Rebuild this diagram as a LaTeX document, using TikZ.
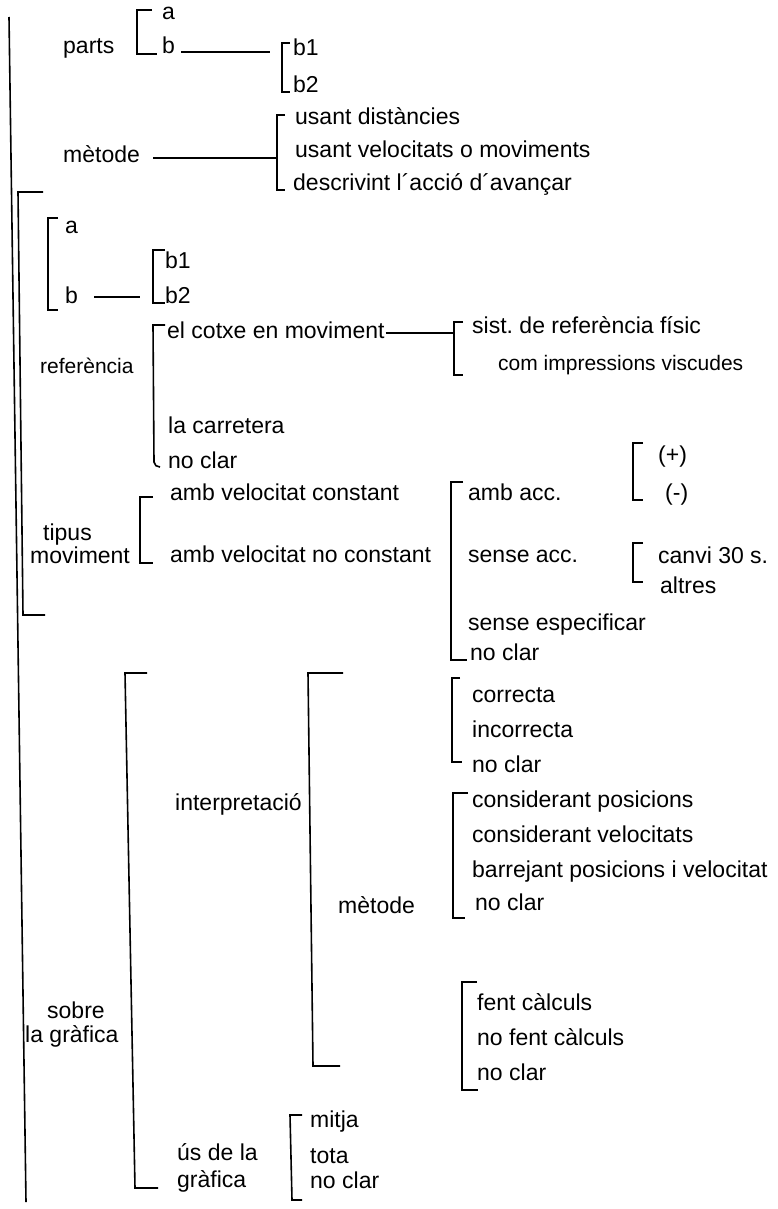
\documentclass[tikz,border=0pt]{standalone}
\usepackage{fontspec}
\setmainfont{Liberation Sans}
\frenchspacing
\begin{document}
\begin{tikzpicture}[x=1pt,y=-1pt,
  lbl/.style={anchor=base west, inner sep=0pt, font=\fontsize{23}{27}\selectfont},
  sml/.style={anchor=base west, inner sep=0pt, font=\fontsize{21}{25}\selectfont},
  brk/.style={line width=1.6pt, line cap=butt, line join=miter},
]
\useasboundingbox (0,0) rectangle (778,1209);

% ---------- spine and second-level bracket ----------
\draw[brk] (9,17) -- (26,1202);
\draw[brk] (43,192) -- (18,192) -- (23,615) -- (45,615);

% ---------- parts ----------
\node[lbl] (parts) at (63,54) {parts};
\node[lbl] (pa) at (162,20) {a};
\node[lbl] (pb) at (162,54) {b};
\draw[brk] (152,10) -- (137,10) -- (137,54) -- (157,54);
\node[lbl] (pb1) at (293,56) {b1};
\node[lbl] (pb2) at (293,93) {b2};
\draw[brk] (290,43) -- (282,43) -- (282,92) -- (290,92);
\coordinate (pbend) at (270,52);
\draw[brk] ([xshift=6pt,yshift=2pt]pb.base east) -- (pbend);

% ---------- mètode ----------
\node[lbl] (met) at (63,163) {mètode};
\node[lbl] (m1) at (295,125) {usant distàncies};
\node[lbl] (m2) at (295,158) {usant velocitats o moviments};
\node[lbl] (m3) at (293,190) {descrivint l´acció d´avançar};
\draw[brk] (285,115) -- (277,115) -- (277,190) -- (285,190);
\coordinate (metbr) at (277,158);
\draw[brk] ([xshift=13pt,yshift=5pt]met.base east) -- (metbr);

% ---------- second a / b ----------
\node[lbl] (sa) at (65,233) {a};
\node[lbl] (sb) at (65,303) {b};
\draw[brk] (58,218) -- (48,218) -- (48,310) -- (58,310);
\node[lbl] (sb1) at (165,268) {b1};
\node[lbl] (sb2) at (165,303) {b2};
\draw[brk] (165,250) -- (153,250) -- (153,303) -- (165,303);
\coordinate (sbend) at (140,297);
\draw[brk] ([xshift=16pt,yshift=6pt]sb.base east) -- (sbend);

% ---------- referència ----------
\node[sml] (ref) at (40,373) {referència};
\node[lbl] (r1) at (167,338) {el cotxe en moviment};
\node[lbl] (r2) at (168,433) {la carretera};
\node[lbl] (r3) at (168,468) {no clar};
\draw[brk] (165,325) -- (153,325) -- (154,462) to[out=-90,in=180] (160,467);
\node[lbl] (rs1) at (472,333) {sist. de referència físic};
\node[sml] (rs2) at (498,370) {com impressions viscudes};
\draw[brk] (463,322) -- (454,322) -- (454,375) -- (463,375);
\coordinate (refbr) at (454,333);
\draw[brk] ([xshift=1pt,yshift=5pt]r1.base east) -- (refbr);

% ---------- tipus moviment ----------
\node[lbl] (tip1) at (43,540) {tipus};
\node[lbl] (tip2) at (30,563) {moviment};
\draw[brk] (153,497) -- (140,497) -- (140,563) -- (153,563);
\node[lbl] (vc) at (170,500) {amb velocitat constant};
\node[lbl] (vnc) at (170,562) {amb velocitat no constant};
\draw[brk] (463,482) -- (451,482) -- (451,660) -- (467,660);
\node[lbl] (acc) at (468,500) {amb acc.};
\node[lbl] (sacc) at (468,562) {sense acc.};
\node[lbl] (sesp) at (468,630) {sense especificar};
\node[lbl] (nc1) at (470,660) {no clar};
\draw[brk] (643,443) -- (633,443) -- (633,500) -- (643,500);
\node[lbl] (plus) at (658,462) {(+)};
\node[lbl] (minus) at (665,500) {(-)};
\draw[brk] (643,543) -- (633,543) -- (633,582) -- (643,582);
\node[lbl] (canvi) at (658,563) {canvi 30 s.};
\node[lbl] (altres) at (660,593) {altres};

% ---------- sobre la gràfica ----------
\draw[brk] (147,673) -- (125,673) -- (135,1188) -- (158,1188);
\node[lbl] (sob1) at (47,1018) {sobre};
\node[lbl] (sob2) at (25,1042) {la gràfica};

\node[lbl] (interp) at (175,810) {interpretació};
\draw[brk] (343,673) -- (308,673) -- (313,1066) -- (340,1066);

\draw[brk] (460,678) -- (452,678) -- (452,762) -- (462,762);
\node[lbl] (ic1) at (472,702) {correcta};
\node[lbl] (ic2) at (472,737) {incorrecta};
\node[lbl] (ic3) at (472,772) {no clar};

\node[lbl] (met2) at (338,913) {mètode};
\draw[brk] (468,793) -- (453,793) -- (453,918) -- (465,918);
\node[lbl] (mc1) at (472,807) {considerant posicions};
\node[lbl] (mc2) at (472,842) {considerant velocitats};
\node[lbl] (mc3) at (472,877) {barrejant posicions i velocitat};
\node[lbl] (mc4) at (475,910) {no clar};

\draw[brk] (477,982) -- (462,982) -- (462,1090) -- (478,1090);
\node[lbl] (fc1) at (477,1010) {fent càlculs};
\node[lbl] (fc2) at (477,1045) {no fent càlculs};
\node[lbl] (fc3) at (477,1080) {no clar};

\node[lbl] (us1) at (177,1160) {ús de la};
\node[lbl] (us2) at (177,1187) {gràfica};
\draw[brk] (302,1115) -- (290,1115) -- (292,1200) -- (302,1200);
\node[lbl] (ug1) at (310,1127) {mitja};
\node[lbl] (ug2) at (310,1163) {tota};
\node[lbl] (ug3) at (310,1188) {no clar};
\end{tikzpicture}
\end{document}
